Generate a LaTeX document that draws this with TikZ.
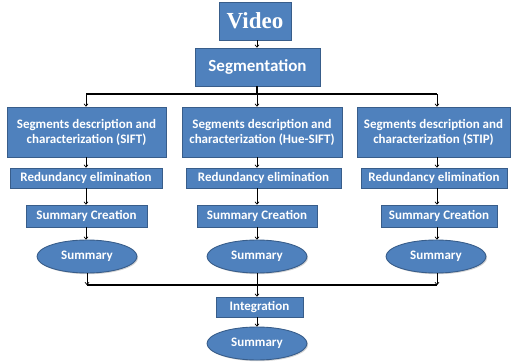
\documentclass[tikz,border=0pt]{standalone}
\usepackage{fontspec}
\setmainfont{Carlito}
\newfontfamily\vidfont{Liberation Serif}
\usetikzlibrary{arrows.meta,shapes.geometric,shadows}
\definecolor{boxblue}{HTML}{4F81BD}
\definecolor{boxedge}{HTML}{385D8A}
\tikzset{
  bx/.style={draw=boxedge,line width=0.9pt,fill=boxblue,text=white,font=\bfseries\fontsize{13}{15}\selectfont,
    inner sep=0pt,align=center,drop shadow={shadow xshift=1.2pt,shadow yshift=-1.2pt,opacity=0.35}},
  ell/.style={bx,ellipse},
  arr/.style={-{To[length=3pt,width=4.5pt]},line width=0.7pt},
  ln/.style={line width=1.3pt}
}
\begin{document}
\begin{tikzpicture}[x=1pt,y=-1pt]
\useasboundingbox (0,0) rectangle (512,362);
\node[bx,minimum width=72,minimum height=38,font=\vidfont\bfseries\fontsize{23}{25}\selectfont] (video) at (255,21) {Video};
\node[bx,minimum width=125,minimum height=38,font=\bfseries\fontsize{17}{19}\selectfont] (seg) at (257.5,67) {Segmentation};

\node[bx,minimum width=159,minimum height=50] (d1) at (86.5,132) {Segments description and\\characterization (SIFT)};
\node[bx,minimum width=160,minimum height=50] (d2) at (262,132) {Segments description and\\characterization (Hue-SIFT)};
\node[bx,minimum width=153,minimum height=50] (d3) at (433.5,132) {Segments description and\\characterization (STIP)};

\node[bx,minimum width=152,minimum height=20] (r1) at (86,178) {Redundancy elimination};
\node[bx,minimum width=155,minimum height=20] (r2) at (263.5,178) {Redundancy elimination};
\node[bx,minimum width=146,minimum height=20] (r3) at (434,178) {Redundancy elimination};

\node[bx,minimum width=121,minimum height=22] (c1) at (86.5,216) {Summary Creation};
\node[bx,minimum width=120,minimum height=22] (c2) at (257,216) {Summary Creation};
\node[bx,minimum width=116,minimum height=22] (c3) at (439,216) {Summary Creation};

\node[ell,minimum width=100,minimum height=33] (s1) at (87,256.5) {Summary};
\node[ell,minimum width=100,minimum height=33] (s2) at (257,256.5) {Summary};
\node[ell,minimum width=100,minimum height=33] (s3) at (436,256.5) {Summary};

\node[bx,minimum width=87,minimum height=20] (int) at (259.5,307) {Integration};
\node[ell,minimum width=100,minimum height=33] (fs) at (257,343.5) {Summary};

\coordinate (t1) at (86,94);
\coordinate (t2) at (257,94);
\coordinate (t3) at (437,94);
\coordinate (b1) at (87,285);
\coordinate (b2) at (257,285);
\coordinate (b3) at (437,285);

\draw[arr] (video.south -| t2) -- (seg.north -| t2);
\draw[ln] (seg.south -| t2) -- (t2);
\draw[ln] (t1) -- (t3);
\draw[arr] (t1) -- (d1.north -| t1);
\draw[arr] (t2) -- (d2.north -| t2);
\draw[arr] (t3) -- (d3.north -| t3);

\foreach \i/\x in {1/86,2/257,3/437}{
  \draw[arr] (d\i.south -| \x,0) -- (r\i.north -| \x,0);
  \draw[arr] (r\i.south -| \x,0) -- (c\i.north -| \x,0);
  \draw[arr] (c\i.south -| \x,0) -- (s\i.north -| \x,0);
}
\draw[arr] (s1.south -| b1) -- (b1);
\draw[arr] (s3.south -| b3) -- (b3);
\draw[ln] (b1) -- (b3);
\draw[arr] (s2.south) -- (int.north -| s2.south);
\draw[arr] (int.south -| fs.north) -- (fs.north);
\end{tikzpicture}
\end{document}
